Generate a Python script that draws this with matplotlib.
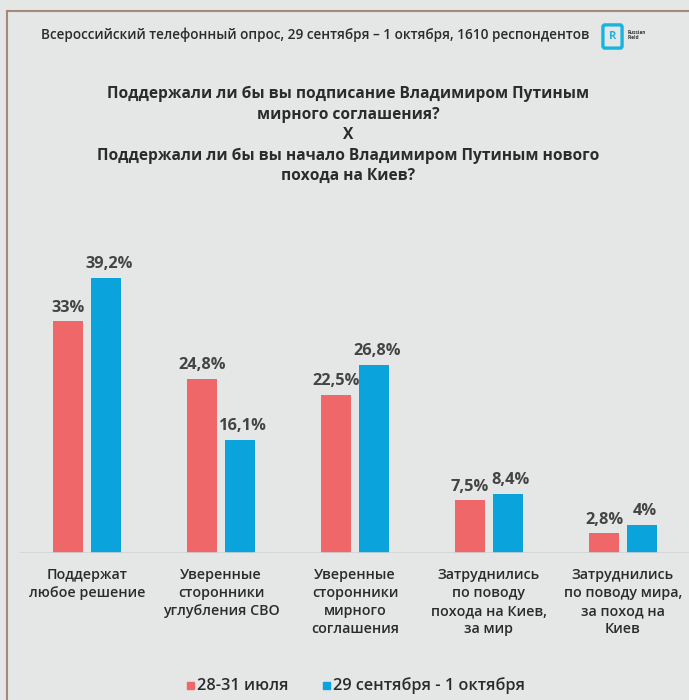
import matplotlib.pyplot as plt
import numpy as np
from matplotlib.patches import FancyBboxPatch, Rectangle
from matplotlib.lines import Line2D

# Данные
categories = ['Поддержат\nлюбое решение',
              'Уверенные\nсторонники\nуглубления СВО',
              'Уверенные\nсторонники\nмирного\nсоглашения',
              'Затруднились\nпо поводу\nпохода на Киев,\nза мир',
              'Затруднились\nпо поводу мира,\nза поход на\nКиев']
july = [33, 24.8, 22.5, 7.5, 2.8]
sept = [39.2, 16.1, 26.8, 8.4, 4]
july_labels = ['33%', '24,8%', '22,5%', '7,5%', '2,8%']
sept_labels = ['39,2%', '16,1%', '26,8%', '8,4%', '4%']
series_names = ['28-31 июля', '29 сентября - 1 октября']

bg = '#e4e7e6'
red = '#f0676a'
blue = '#0aa3dc'
txt = '#2b2b2b'

plt.rcParams['font.family'] = ['Open Sans', 'DejaVu Sans']

fig = plt.figure(figsize=(6.89, 7.0), dpi=100, facecolor=bg)

# рамка
fig.add_artist(Line2D([7/689, 7/689], [0, 1 - 11/700], color='#a58a7a', lw=1.5))
fig.add_artist(Line2D([7/689, 1], [1 - 11/700, 1 - 11/700], color='#a58a7a', lw=1.5))

ax = fig.add_axes([20/689, 147/700, 670/689, 316/700])
ax.set_facecolor(bg)

x = np.arange(len(categories))
off = 0.142
w = 0.224
ax.bar(x - off, july, w, color=red)
ax.bar(x + off, sept, w, color=blue)

for i in range(len(x)):
    ax.text(x[i] - off, july[i] + 0.8, july_labels[i], ha='center', va='bottom',
            fontsize=11.8, color='#444444', fontweight='bold')
    ax.text(x[i] + off + 0.02, sept[i] + 0.8, sept_labels[i], ha='center', va='bottom',
            fontsize=11.8, color='#444444', fontweight='bold')
    ax.text(x[i], -2.2, categories[i], ha='center', va='top', fontsize=10.3,
            color=txt, fontweight='semibold', linespacing=1.36)

ax.set_xlim(-0.5, 4.5)
ax.set_ylim(0, 45)
ax.axhline(0, color='#d0d4d3', lw=1.2)
ax.axis('off')

# заголовки
fig.text(0.457, 1 - 35/700, 'Всероссийский телефонный опрос, 29 сентября – 1 октября, 1610 респондентов',
         ha='center', va='center', fontsize=9.8, color=txt, fontweight='semibold')
fig.text(0.505, 1 - 135/700,
         'Поддержали ли бы вы подписание Владимиром Путиным\nмирного соглашения?\nX\n'
         'Поддержали ли бы вы начало Владимиром Путиным нового\nпохода на Киев?',
         ha='center', va='center', fontsize=11.2, color=txt, fontweight='bold', linespacing=1.36)

# логотип
fig.add_artist(FancyBboxPatch((605/689, 1 - 46/700), 15/689, 19/700,
                              boxstyle='round,pad=0.003', fc='none', ec='#18b4e0', lw=2.4))
fig.text(612.5/689, 1 - 36.5/700, 'R', ha='center', va='center', fontsize=8, color='#18b4e0', fontweight='bold')
fig.text(628/689, 1 - 35/700, 'Russian\nField', ha='left', va='center', fontsize=3.4,
         color='#333333', fontweight='bold', linespacing=1.1)

# легенда
fig.add_artist(Rectangle((187/689, 1 - 689/700), 7/689, 7/700, color=red))
fig.text(197/689, 1 - 686/700, series_names[0], ha='left', va='center', fontsize=11.7,
         color=txt, fontweight='semibold')
fig.add_artist(Rectangle((323/689, 1 - 689/700), 7/689, 7/700, color=blue))
fig.text(333/689, 1 - 686/700, series_names[1], ha='left', va='center', fontsize=11.7,
         color=txt, fontweight='semibold')

fig.savefig('out.png', dpi=100, facecolor=bg)
